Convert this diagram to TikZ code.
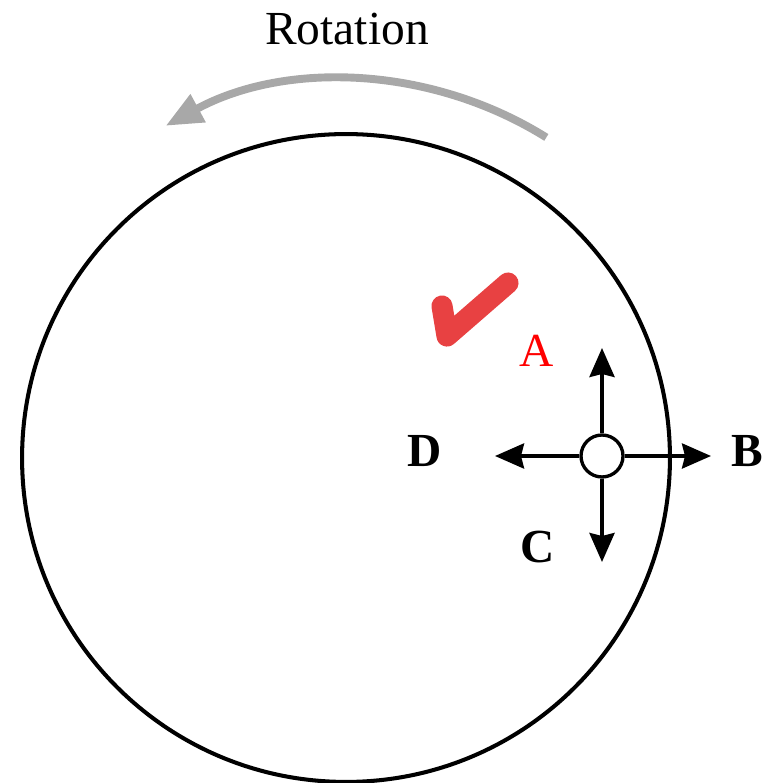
\documentclass[tikz,border=0pt]{standalone}
\usepackage{fontspec}
\setmainfont{Liberation Serif}
\usepackage{xcolor}
\usepackage{tikz}
\usetikzlibrary{arrows.meta, positioning}
\definecolor{checkred}{HTML}{E84142}
\definecolor{rotgray}{HTML}{A8A8A8}

\begin{document}
\begin{tikzpicture}[
        x=0.02cm, y=-0.02cm,
        letter/.style={
            font=\fontsize{27}{32}\selectfont,
            inner sep=0pt
        },
        boldletter/.style={
            font=\fontsize{27}{32}\selectfont\bfseries,
            inner sep=0pt
        },
        force/.style={
            draw=black,
            line width=2.1pt,
            -{Stealth[length=0.58cm, width=0.5cm, inset=0.06cm]}
        }
    ]
    \useasboundingbox (0,0) rectangle (769,783);

    \node[letter] (rotation) at (347,29) {Rotation};

    \node[circle, draw, line width=2.3pt, minimum size=12.96cm, inner sep=0pt] (disc) at (346,458) {};
    \node[circle, draw, fill=white, line width=1.9pt, minimum size=0.84cm, inner sep=0pt] (hub) at (602,456) {};

    \coordinate (rotstart) at ([shift={(-58:378)}]disc.center);
    \coordinate (tipA) at (602,348);
    \coordinate (tipB) at (711,456);
    \coordinate (tipC) at (602,562);
    \coordinate (tipD) at (495,456);

    % Rotation arrow
    \draw[rotgray, line width=4.5pt, -{Triangle[length=0.74cm, width=0.6cm]}]
        (rotstart) arc[start angle=-58, end angle=-118.5, radius=378];

    % Check mark
    \draw[checkred, line width=12pt, line cap=round, line join=round]
        (442,306) -- (447,336) -- (508,283);

    \node[letter, text=red] (labA) at (537,351) {A};
    \node[boldletter] (labB) at (747,451) {B};
    \node[boldletter] (labC) at (538,547) {C};
    \node[boldletter] (labD) at (425,451) {D};

    % Directions
    \draw[force] (hub) -- (tipA);
    \draw[force] (hub) -- (tipB);
    \draw[force] (hub) -- (tipC);
    \draw[force] (hub) -- (tipD);

\end{tikzpicture}
\end{document}
